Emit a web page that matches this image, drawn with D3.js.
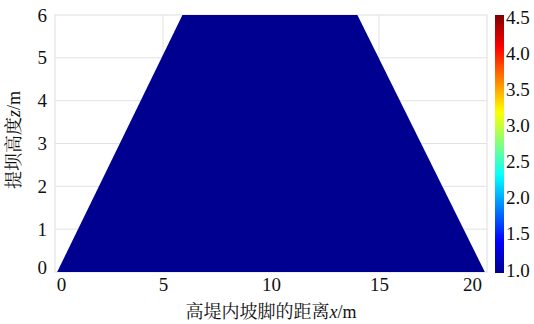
<!DOCTYPE html>
<html>
<head>
<meta charset="utf-8">
<script src="https://cdn.jsdelivr.net/npm/d3@7"></script>
<style>
  html, body { margin: 0; padding: 0; background: #fff; }
  svg { display: block; }
  .tick text { font-family: "Liberation Serif", "Times New Roman", serif; }
</style>
</head>
<body>
<svg id="chart" width="534" height="324"></svg>
<script>
// Embankment cross-section outline (distance x, height z), metres
const profileX = [0.1, 5.9, 14.0, 19.9];
const profileZ = [0, 6, 6, 0];
// Field value over the cross-section (uniform)
const fieldValue = 1.0;

// Axis ticks
const xTicks = [0, 5, 10, 15, 20];
const zTicks = [0, 1, 2, 3, 4, 5, 6];
const colorTicks = [1.0, 1.5, 2.0, 2.5, 3.0, 3.5, 4.0, 4.5];
const colorDomain = [1.0, 4.5];

// Jet colour stops
const jetStops = ["#000090", "#0000ff", "#0080ff", "#00ffff", "#80ff80", "#ffff00", "#ff8000", "#ff0000", "#800000"];

const svg = d3.select("#chart");
const margin = { left: 55, right: 487, top: 15, bottom: 272 };

const x = d3.scaleLinear().domain([0, 20]).range([margin.left, margin.right]);
const z = d3.scaleLinear().domain([0, 6]).range([margin.bottom, margin.top]);

const jet = d3.scaleLinear()
  .domain(d3.range(jetStops.length).map(i => colorDomain[0] + i * (colorDomain[1] - colorDomain[0]) / (jetStops.length - 1)))
  .range(jetStops)
  .interpolate(d3.interpolateRgb);

const serif = '"Liberation Serif", "Times New Roman", serif';
const cjk = '"Noto Serif CJK SC", "Noto Sans CJK SC", serif';

// Plot frame
svg.append("rect")
  .attr("x", margin.left).attr("y", margin.top)
  .attr("width", margin.right - margin.left).attr("height", margin.bottom - margin.top)
  .attr("fill", "#fff").attr("stroke", "#dedede").attr("stroke-width", 1);

// Grid lines
const grid = svg.append("g").attr("stroke", "#e2e2e2").attr("stroke-width", 1);
grid.selectAll("line.gx").data(xTicks.slice(1, -1)).join("line")
  .attr("x1", d => x(d)).attr("x2", d => x(d))
  .attr("y1", margin.top).attr("y2", margin.bottom);
grid.selectAll("line.gz").data(zTicks.slice(1, -1)).join("line")
  .attr("x1", margin.left).attr("x2", margin.right)
  .attr("y1", d => z(d)).attr("y2", d => z(d));

// Embankment cross-section
const pts = profileX.map((d, i) => [d, profileZ[i]]);
svg.append("path")
  .datum(pts)
  .attr("d", d3.line().x(d => x(d[0])).y(d => z(d[1])).curve(d3.curveLinearClosed))
  .attr("fill", jet(fieldValue));

// X axis
const xAxis = svg.append("g")
  .attr("transform", `translate(0,${margin.bottom})`)
  .call(d3.axisBottom(x).tickValues(xTicks).tickSize(0).tickPadding(6).tickFormat(d3.format("d")));
xAxis.select(".domain").remove();
xAxis.selectAll("text")
  .attr("font-size", 19).attr("fill", "#111").attr("font-family", serif)
  .attr("dx", d => d === 0 ? 6 : d === 20 ? -15 : 0);

// Z axis
const zAxis = svg.append("g")
  .attr("transform", `translate(${margin.left},0)`)
  .call(d3.axisLeft(z).tickValues(zTicks).tickSize(0).tickPadding(8).tickFormat(d3.format("d")));
zAxis.select(".domain").remove();
zAxis.selectAll("text")
  .attr("font-size", 19).attr("fill", "#111").attr("font-family", serif)
  .attr("dy", d => d === 0 ? "0.1em" : "0.32em");

// Axis titles
const xTitle = svg.append("text")
  .attr("x", 271).attr("y", 318)
  .attr("text-anchor", "middle").attr("font-size", 18).attr("fill", "#111").attr("font-family", cjk);
xTitle.append("tspan").text("高堤内坡脚的距离");
xTitle.append("tspan").attr("font-family", serif).attr("font-style", "italic").text("x");
xTitle.append("tspan").attr("font-family", serif).text("/m");

const zTitle = svg.append("text")
  .attr("transform", "translate(20,140) rotate(-90)")
  .attr("text-anchor", "middle").attr("font-size", 18).attr("fill", "#111").attr("font-family", cjk);
zTitle.append("tspan").text("提坝高度");
zTitle.append("tspan").attr("font-family", serif).attr("font-style", "italic").text("z");
zTitle.append("tspan").attr("font-family", serif).text("/m");

// Colour bar
const cbX = 495, cbW = 9, cbTop = 15, cbBottom = 273;
const cbScale = d3.scaleLinear().domain(colorDomain).range([cbBottom - 3, cbTop + 2]);
const grad = svg.append("defs").append("linearGradient")
  .attr("id", "jetGrad").attr("x1", 0).attr("y1", 1).attr("x2", 0).attr("y2", 0);
grad.selectAll("stop").data(d3.range(0, 1.0001, 0.02)).join("stop")
  .attr("offset", d => d)
  .attr("stop-color", d => jet(colorDomain[0] + d * (colorDomain[1] - colorDomain[0])));
svg.append("rect")
  .attr("x", cbX).attr("y", cbTop).attr("width", cbW).attr("height", cbBottom - cbTop)
  .attr("fill", "url(#jetGrad)");

const cbAxis = svg.append("g")
  .attr("transform", `translate(${cbX + cbW},0)`)
  .call(d3.axisRight(cbScale).tickValues(colorTicks).tickSize(0).tickPadding(2).tickFormat(d3.format(".1f")));
cbAxis.select(".domain").remove();
cbAxis.selectAll("text")
  .attr("font-size", 19).attr("fill", "#111").attr("font-family", serif);
</script>
</body>
</html>
